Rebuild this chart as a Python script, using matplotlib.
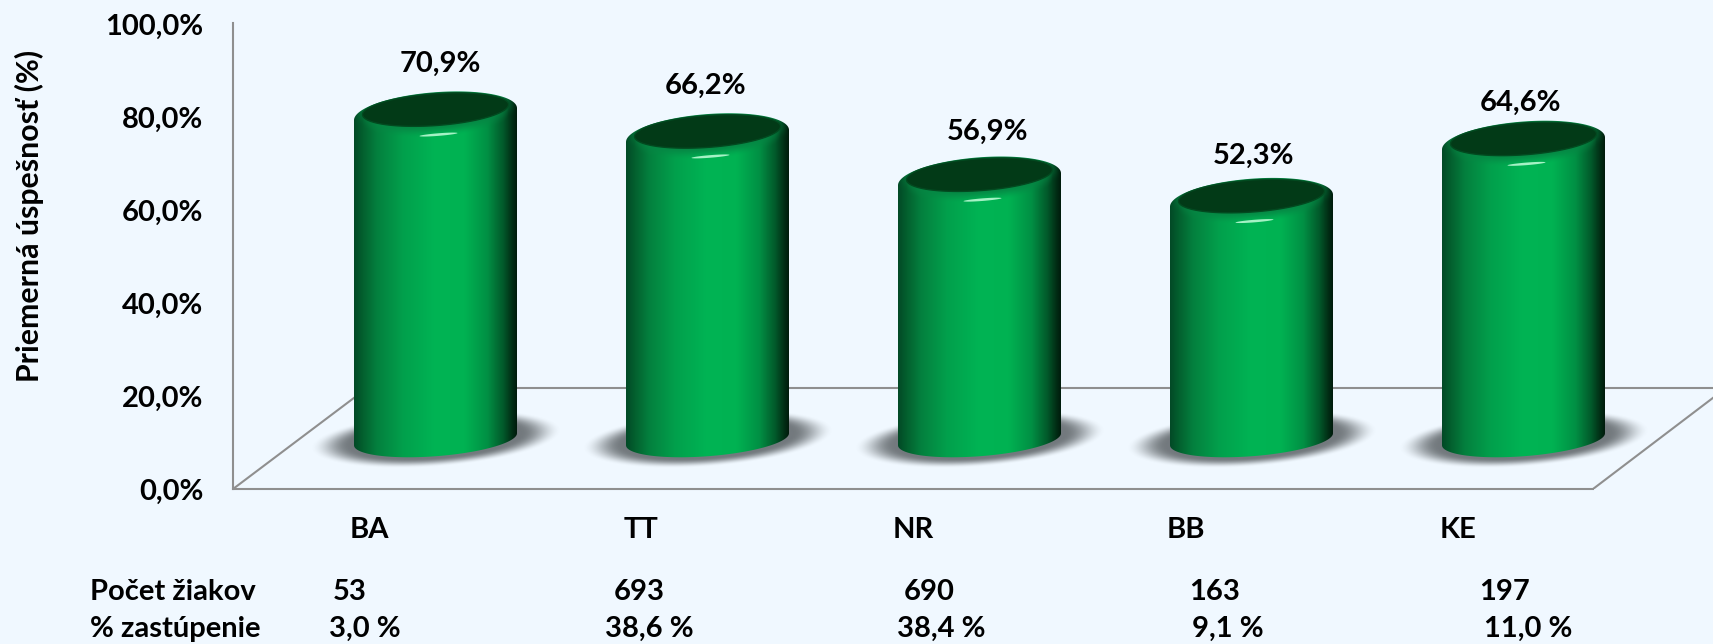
import numpy as np
import matplotlib
matplotlib.use("Agg")
import matplotlib.pyplot as plt
from matplotlib.path import Path
from matplotlib.patches import PathPatch, Polygon

W, H = 1713, 644
BG = "#f0f8ff"
LINE = "#8f8f8f"
FS = 21

regions = ["BA", "TT", "NR", "BB", "KE"]
values = [70.9, 66.2, 56.9, 52.3, 64.6]
students = ["53", "693", "690", "163", "197"]
shares = ["3,0 %", "38,6 %", "38,4 %", "9,1 %", "11,0 %"]
y_ticks = [0, 20, 40, 60, 80, 100]
y_labels = ["0,0%", "20,0%", "40,0%", "60,0%", "80,0%", "100,0%"]

# layout in pixels of the reference
PX_X = 272.0      # one category
PX_Y = 4.65       # one percent
BASE = 10.7       # the bars stand this far up the floor (percent)
label_dx = [5, -2, 8, 2, -3]
label_dy = [-2, -2, -5, -7, -11]
students_x = [350, 639, 929, 1215, 1505]
shares_x = [365, 649, 941, 1228, 1528]

plt.rcParams["font.family"] = ["Lato", "DejaVu Sans"]
plt.rcParams["font.weight"] = "bold"

fig = plt.figure(figsize=(W / 100, H / 100), dpi=100, facecolor=BG)
ax = fig.add_axes([233 / W, (H - 489) / H, (W - 233) / W, 465 / H], facecolor="none")
ax.set_xlim(-202.5 / PX_X, (W - 435.5) / PX_X)
ax.set_ylim(0, 100)
xlim, ylim = ax.get_xlim(), ax.get_ylim()

stops = [0, .05, .14, .3, .5, .68, .82, .92, .97, 1]
reds = [0x02, 0x03, 0x04, 0x02, 0x00, 0x00, 0x01, 0x02, 0x01, 0x00]
greens = [0x4a, 0x5f, 0x80, 0xa0, 0xb4, 0xb2, 0x90, 0x58, 0x30, 0x1c]
blues = [0x26, 0x2e, 0x3e, 0x4c, 0x54, 0x52, 0x44, 0x2a, 0x16, 0x0c]


def ring(cx, cy, a, b, k, t):
    # sheared ellipse, sizes in px, result in data units
    x = cx + a * np.cos(t) / PX_X
    y = cy + (b * np.sin(t) + k * np.cos(t)) / PX_Y
    return x, y


def draw_shadow(cx, cy):
    a, b, k = 126, 28, 9
    xs = np.linspace(-a, a, 250)
    ys = np.linspace(-b - 10, b + 10, 80)
    X, Y = np.meshgrid(xs, ys)
    r = np.sqrt((X / a) ** 2 + ((Y - k * X / a) / b) ** 2)
    alpha = np.clip((1.0 - r) / .32, 0, 1)
    alpha = alpha * alpha * (3 - 2 * alpha) * .88
    img = np.zeros(X.shape + (4,))
    img[..., :3] = np.array([0x62, 0x68, 0x6c]) / 255
    img[..., 3] = alpha
    ax.imshow(img, origin="lower", aspect="auto", zorder=2, interpolation="bilinear",
              extent=[cx - a / PX_X, cx + a / PX_X, cy - (b + 10) / PX_Y, cy + (b + 10) / PX_Y])


def draw_cylinder(cx, value):
    a = 81.5
    bottom = BASE
    top = value + BASE
    t = np.linspace(0, 2 * np.pi, 200)

    # body outline: shoulder arc on top, bottom arc below
    up = np.linspace(0, np.pi, 100)
    down = np.linspace(np.pi, 2 * np.pi, 100)
    ox, oy = ring(cx, top - 1.0, a, 22, 6, up)
    bx, by = ring(cx, bottom, a, 17, 6, down)
    verts = np.column_stack([np.r_[ox, bx], np.r_[oy, by]])
    clip = PathPatch(Path(np.vstack([verts, verts[:1]]), closed=True), transform=ax.transData,
                     facecolor="none", edgecolor="none")
    ax.add_patch(clip)

    # body colours, with the darker rim just under the cap
    height_px = (top - bottom) * PX_Y + 60
    xs = np.linspace(-a, a, 200)
    ys = np.linspace(-30, height_px - 30, int(height_px))
    X, Y = np.meshgrid(xs, ys)
    u = (xs + a) / (2 * a)
    img = np.zeros(X.shape + (3,))
    for c, chan in enumerate([reds, greens, blues]):
        img[..., c] = np.interp(u, stops, chan)[None, :] / 255
    cap_y = (top - bottom) * PX_Y + 1 + 5 * X / a - 16 * np.sqrt(np.clip(1 - (X / 73) ** 2, 0, 1))
    s = np.clip((cap_y - Y) / 13, 0, 1)
    edge = np.clip(1 - np.abs(X / a) ** 4, 0, 1)
    rim = np.array([0x06, 0x86, 0x44]) / 255 * edge[..., None] + img * (1 - edge[..., None])
    mix = (1 - s * s * (3 - 2 * s))[..., None]
    img = img * (1 - mix) + rim * mix
    im = ax.imshow(img, origin="lower", aspect="auto", zorder=3, interpolation="bilinear",
                   extent=[cx - a / PX_X, cx + a / PX_X, bottom - 30 / PX_Y, bottom + (height_px - 30) / PX_Y])
    im.set_clip_path(clip)

    # dark cap and the small highlight
    x, y = ring(cx, top, 73, 16, 5, t)
    ax.add_patch(Polygon(np.column_stack([x, y]), closed=True, facecolor="#023a17", edgecolor="#024a20",
                         linewidth=1, zorder=4))
    x, y = ring(cx + 3 / PX_X, top - 25 / PX_Y, 19, 1.3, 1.5, t)
    ax.add_patch(Polygon(np.column_stack([x, y]), closed=True, facecolor="#a5f2c5", edgecolor="none", zorder=5))


# floor and back wall
x_left = xlim[0]
ax.plot([x_left, x_left + 134 / PX_X], [0, 21.7], color=LINE, lw=1.5, zorder=1, solid_capstyle="round")
ax.plot([x_left + 134 / PX_X, xlim[1]], [21.7, 21.7], color=LINE, lw=1.5, zorder=1)
ax.plot([x_left + 1360 / PX_X, xlim[1]], [0, 19.6], color=LINE, lw=1.5, zorder=1)

for side in ["top", "right"]:
    ax.spines[side].set_visible(False)
for side in ["left", "bottom"]:
    ax.spines[side].set_color(LINE)
    ax.spines[side].set_linewidth(1.5)
ax.spines["left"].set_bounds(0, 100.2)
ax.spines["bottom"].set_bounds(x_left, x_left + 1360 / PX_X)

for i, v in enumerate(values):
    draw_shadow(i, BASE)
    draw_cylinder(i, v)
    ax.text(i + label_dx[i] / PX_X, v + 20.9 + label_dy[i] / PX_Y, f"{v:.1f}%".replace(".", ","), ha="center",
            va="center", fontsize=FS, fontweight="bold", color="black", zorder=6)

ax.set_xlim(xlim)
ax.set_ylim(ylim)
ax.set_yticks(y_ticks, y_labels, fontsize=FS, fontweight="bold")
ax.set_xticks(np.arange(len(regions)) - 66 / PX_X, regions, fontsize=FS, fontweight="bold")
ax.tick_params(axis="y", length=0, pad=21.5)
ax.tick_params(axis="x", length=0, pad=20.5)

fig.text(29 / W, 1 - 216 / H, "Priemerná úspešnosť (%)", rotation=90, ha="center", va="center",
         fontsize=21.8, fontweight="bold")
fig.text(90 / W, 1 - 592 / H, "Počet žiakov", ha="left", va="center", fontsize=FS, fontweight="bold")
fig.text(90 / W, 1 - 629 / H, "% zastúpenie", ha="left", va="center", fontsize=FS, fontweight="bold")
for i in range(len(regions)):
    fig.text(students_x[i] / W, 1 - 592 / H, students[i], ha="center", va="center", fontsize=FS, fontweight="bold")
    fig.text(shares_x[i] / W, 1 - 629 / H, shares[i], ha="center", va="center", fontsize=FS, fontweight="bold")

fig.savefig("out.png", dpi=100, facecolor=BG)
